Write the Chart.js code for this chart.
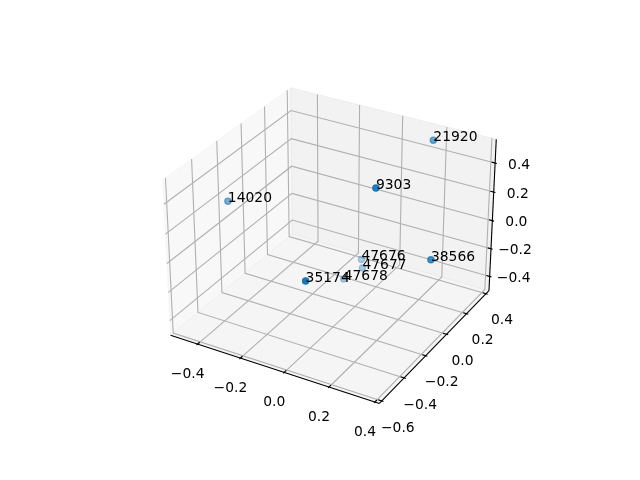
<!DOCTYPE html>
<html>
<head>
<meta charset="utf-8">
<style>html,body{margin:0;padding:0;background:#fff}canvas{display:block}</style>
<script src="https://cdn.jsdelivr.net/npm/chart.js@4/dist/chart.umd.min.js"></script>
</head>
<body>
<canvas id="c" width="640" height="480"></canvas>
<script>
const pointLabels = ["35174","9303","38566","14020","21920","47676","47677","47678"];
const xValues = [-0.007, 0.124, 0.333, -0.508, 0.165, -0.079, -0.056, -0.112];
const yValues = [-0.422, -0.069, 0.015, -0.162, 0.379, 0.217, 0.181, 0.116];
const zValues = [-0.022, 0.424, -0.029, 0.133, 0.487, -0.351, -0.379, -0.438];
const xTicks = [-0.4, -0.2, 0.0, 0.2, 0.4];
const yTicks = [-0.6, -0.4, -0.2, 0.0, 0.2, 0.4];
const zTicks = [-0.4, -0.2, 0.0, 0.2, 0.4];
const xLim = [-0.51, 0.40];
const yLim = [-0.60, 0.41];
const zLim = [-0.483, 0.539];

// matplotlib's default 3D view (elev 30, azim -60)
const U = [0.8660254, 0.5, 0], V = [-0.25, 0.4330127, 0.8660254], W = [0.4330127, -0.75, 0.5];
const BOX = [1.2, 1.1905, 0.8929], DIST = 10;
const PX = 1945.3, CX = 333, CY = 237.6;
const dot = (a, b) => a[0]*b[0] + a[1]*b[1] + a[2]*b[2];
function toBox(x, y, z) {
  return [
    ((x - xLim[0]) / (xLim[1] - xLim[0]) - 0.5) * BOX[0],
    ((y - yLim[0]) / (yLim[1] - yLim[0]) - 0.5) * BOX[1],
    ((z - zLim[0]) / (zLim[1] - zLim[0]) - 0.5) * BOX[2]
  ];
}
function project(x, y, z) {
  const d = toBox(x, y, z);
  const depth = DIST - dot(W, d);
  return { x: dot(U, d) / depth, y: dot(V, d) / depth };
}
const pad = l => (l[1] - l[0]) / 48;
const x0 = xLim[0] - pad(xLim), x1 = xLim[1] + pad(xLim);
const y0 = yLim[0] - pad(yLim), y1 = yLim[1] + pad(yLim);
const z0 = zLim[0] - pad(zLim), z1 = zLim[1] + pad(zLim);
const path = pts => pts.map(p => project(p[0], p[1], p[2]));

const GRID = '#b0b0b0';
const sets = [];
function pane(pts, c) {
  sets.push({ data: path(pts), showLine: true, fill: 'shape', tension: 0, pointRadius: 0,
    backgroundColor: c, borderColor: c, borderWidth: 1 });
}
function line(pts, color, width) {
  sets.push({ data: path(pts), showLine: true, fill: false, tension: 0, pointRadius: 0,
    borderColor: color, borderWidth: width, borderCapStyle: 'butt', borderJoinStyle: 'miter' });
}
pane([[x0,y0,z0],[x0,y1,z0],[x0,y1,z1],[x0,y0,z1],[x0,y0,z0]], 'rgba(242,242,242,0.5)');
pane([[x0,y1,z0],[x1,y1,z0],[x1,y1,z1],[x0,y1,z1],[x0,y1,z0]], 'rgba(230,230,230,0.5)');
pane([[x0,y0,z0],[x1,y0,z0],[x1,y1,z0],[x0,y1,z0],[x0,y0,z0]], 'rgba(236,236,236,0.5)');

xTicks.forEach(t => line([[t,y0,z0],[t,y1,z0],[t,y1,z1]], GRID, 1.1));
yTicks.forEach(t => line([[x1,t,z0],[x0,t,z0],[x0,t,z1]], GRID, 1.1));
zTicks.forEach(t => line([[x0,y0,t],[x0,y1,t],[x1,y1,t]], GRID, 1.1));

line([[x0,y0,z0],[x1,y0,z0]], '#000', 1.1);
line([[x1,y0,z0],[x1,y1,z0]], '#000', 1.1);
line([[x1,y1,z0],[x1,y1,z1]], '#000', 1.1);

const dx = (xLim[1]-xLim[0])/12, dy = (yLim[1]-yLim[0])/12;
xTicks.forEach(t => line([[t,y0-0.1*dy,z0],[t,y0+0.2*dy,z0]], '#000', 1.1));
yTicks.forEach(t => line([[x1+0.1*dx,t,z0],[x1-0.2*dx,t,z0]], '#000', 1.1));
zTicks.forEach(t => line([[x1+0.1*dx,y1,t],[x1-0.2*dx,y1,t]], '#000', 1.1));

const depths = pointLabels.map((_, i) => dot(W, toBox(xValues[i], yValues[i], zValues[i])));
const dMin = Math.min(...depths), dMax = Math.max(...depths);
const shades = depths.map(d => 'rgba(31,119,180,' + (0.3 + 0.7 * (d - dMin) / (dMax - dMin)).toFixed(3) + ')');
sets.push({ data: pointLabels.map((_, i) => project(xValues[i], yValues[i], zValues[i])),
  showLine: false, pointRadius: 3.1, pointBorderWidth: 1.3,
  pointBackgroundColor: shades, pointBorderColor: shades });
sets.forEach((s, i) => { s.order = -i; });

const fmt = t => (t < 0 ? '\u2212' : '') + Math.abs(t).toFixed(1);
const textPlugin = {
  id: 'text3d',
  afterDatasetsDraw(chart) {
    const c = chart.ctx, sx = chart.scales.x, sy = chart.scales.y;
    const at = p => [sx.getPixelForValue(p.x), sy.getPixelForValue(p.y)];
    c.save();
    c.fillStyle = '#000';
    c.font = '13.89px "DejaVu Sans"';
    c.textAlign = 'center';
    c.textBaseline = 'middle';
    xTicks.forEach(t => { const [a, b] = at(project(t, y0, z0)); c.fillText(fmt(t), a - 10, b + 30); });
    yTicks.forEach(t => { const [a, b] = at(project(x1, t, z0)); c.fillText(fmt(t), a + 16, b + 27); });
    zTicks.forEach(t => { const [a, b] = at(project(x1, y1, t)); c.fillText(fmt(t), a + 24, b + 2); });
    c.textAlign = 'left';
    c.textBaseline = 'alphabetic';
    pointLabels.forEach((s, i) => {
      const [a, b] = at(project(xValues[i], yValues[i], zValues[i]));
      c.fillText(s, a, b + 1);
    });
    c.restore();
  }
};

new Chart(document.getElementById('c'), {
  type: 'scatter',
  data: { datasets: sets },
  plugins: [textPlugin],
  options: {
    responsive: false,
    animation: false,
    layout: { padding: 0 },
    plugins: { legend: { display: false }, tooltip: { enabled: false } },
    scales: {
      x: { type: 'linear', display: false, min: -CX / PX, max: (640 - CX) / PX },
      y: { type: 'linear', display: false, min: -(480 - CY) / PX, max: CY / PX }
    }
  }
});
</script>
</body>
</html>
